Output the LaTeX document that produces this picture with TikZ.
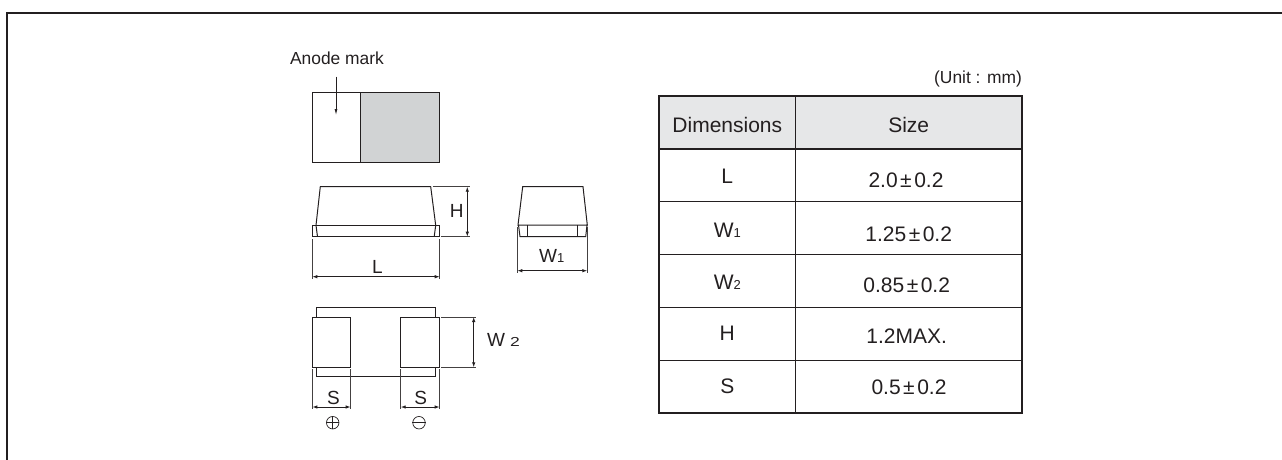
\documentclass[tikz,border=0pt]{standalone}
\usepackage{fontspec}
\usepackage{graphicx}
\setmainfont{Liberation Sans}
\usetikzlibrary{arrows.meta}
\definecolor{ink}{HTML}{231F20}
\newcommand{\fsLabel}{\fontsize{17.4}{20}\selectfont}
\newcommand{\fsTab}{\fontsize{21}{24}\selectfont}
\newcommand{\fsDim}{\fontsize{19}{22}\selectfont}
\newcommand{\smallidx}[1]{{\fontsize{13}{14}\selectfont #1}}
\newcommand{\plmn}{\kern2.5pt±\kern2.5pt}
\tikzset{
  part/.style={draw=ink,line width=1pt},
  ext/.style={draw=ink!85,line width=0.8pt},
  dimline/.style={draw=ink,line width=0.9pt,{Latex[length=5pt,width=3.5pt]}-{Latex[length=5pt,width=3.5pt]}},
  leader/.style={draw=ink,line width=0.8pt,-{Latex[length=6pt,width=3pt]}},
  lbl/.style={text=ink,inner sep=0pt,font=\fsDim},
  tabtxt/.style={text=ink,inner sep=0pt,font=\fsTab},
  thick rule/.style={draw=ink,line width=2pt},
  thin rule/.style={draw=ink,line width=1pt},
  polar/.style={circle,draw=ink,line width=0.7pt,minimum size=12.5pt,inner sep=0pt}
}
\begin{document}
\begin{tikzpicture}[x=1pt,y=-1pt]
\useasboundingbox (0,0) rectangle (1282,459);
% frame
\draw[ink,line width=2pt] (1290,13) -- (7,13) -- (7,470);

% top view
\node[lbl,font=\fsLabel,anchor=center] (anode) at (337,58.5) {Anode mark};
\fill[fill={rgb,255:red,209;green,211;blue,212}] (360,92.3) rectangle (439.7,162.3);
\draw[part] (312.3,92.3) rectangle (439.7,162.3);
\draw[part] (360,92.3) -- (360,162.3);
\coordinate (anodeS) at (336,76.7);
\coordinate (anodeE) at (336,115);
\draw[leader] (anodeS) -- (anodeE);

% side view
\draw[part] (316,225.3) -- (320.3,186.7) -- (430.7,186.7) -- (435.7,225.3);
\draw[part] (312.3,225.3) rectangle (439.7,236.7);
\draw[part] (316,225.3) -- (317.5,236.7);
\draw[part] (435.7,225.3) -- (434.2,236.7);
% H
\coordinate (hT) at (467.3,186.7);
\coordinate (hB) at (467.3,236.7);
\draw[ext] (432.7,186.7) -- (470,186.7);
\draw[ext] (441,236.7) -- (470,236.7);
\draw[dimline] (hT) -- (hB);
\node[lbl] (hlab) at (456.7,210.5) {H};
% L
\coordinate (lL) at (312.3,276.7);
\coordinate (lR) at (439.7,276.7);
\draw[ext] (312.3,239.3) -- (312.3,278.7);
\draw[ext] (439.7,239.3) -- (439.7,278.7);
\draw[dimline] (lL) -- (lR);
\node[lbl] (llab) at (377.3,266.5) {L};

% end view
\draw[part] (518,225) -- (522.7,186.7) -- (583,186.7) -- (587.3,225) -- cycle;
\draw[part] (518.5,225) -- (520,236.7) -- (585.7,236.7) -- (587,225);
\draw[part] (527.7,225) -- (527.7,236.7);
\draw[part] (577.7,225) -- (577.7,236.7);
\coordinate (wL) at (517.3,270.7);
\coordinate (wR) at (587.3,270.7);
\draw[ext] (517.3,226.7) -- (517.3,272.7);
\draw[ext] (587.3,226.7) -- (587.3,272.7);
\draw[dimline] (wL) -- (wR);
\node[lbl] (w1lab) at (551.7,256) {W\smallidx{1}};

% bottom view
\draw[part] (316.3,317) -- (316.3,307.3) -- (435.3,307.3) -- (435.3,317);
\draw[part] (316.3,367.3) -- (316.3,376.7) -- (435.3,376.7) -- (435.3,367.3);
\draw[part] (312.3,317) rectangle (350.7,367.3);
\draw[part] (400.7,317) rectangle (439.7,367.3);
% W2
\coordinate (w2T) at (473.7,317);
\coordinate (w2B) at (473.7,367.3);
\draw[ext] (441.3,317) -- (476,317);
\draw[ext] (441.3,367.3) -- (476,367.3);
\draw[dimline] (w2T) -- (w2B);
\node[lbl,anchor=base west] (w2lab) at (487,346.5) {W\kern5pt\scalebox{1.35}[1]{\smallidx{2}}};
% S left
\coordinate (s1L) at (312.3,407);
\coordinate (s1R) at (350.7,407);
\draw[ext] (312.3,369.3) -- (312.3,408.7);
\draw[ext] (350.7,369.3) -- (350.7,408.7);
\draw[dimline] (s1L) -- (s1R);
\node[lbl] (s1lab) at (333.5,398) {S};
% S right
\coordinate (s2L) at (400.7,407);
\coordinate (s2R) at (439.7,407);
\draw[ext] (400.7,369.3) -- (400.7,408.7);
\draw[ext] (439.7,369.3) -- (439.7,408.7);
\draw[dimline] (s2L) -- (s2R);
\node[lbl] (s2lab) at (420.7,398) {S};
% polarity
\node[polar] (plus) at (332.7,422.7) {};
\draw[ink,line width=0.7pt] (plus.west) -- (plus.east) (plus.north) -- (plus.south);
\node[polar] (minus) at (419,422.7) {};
\draw[ink,line width=0.7pt] (minus.west) -- (minus.east);

% table
\node[tabtxt,font=\fsLabel,anchor=east] (unit) at (1022,79) {(Unit : mm)};
\fill[fill={rgb,255:red,230;green,231;blue,232}] (659.3,96) rectangle (1022.3,148.7);
\draw[thin rule] (659.3,201.7) -- (1022.3,201.7);
\draw[thin rule] (659.3,254.3) -- (1022.3,254.3);
\draw[thin rule] (659.3,307.3) -- (1022.3,307.3);
\draw[thin rule] (659.3,360) -- (1022.3,360);
\draw[thin rule] (795.3,96) -- (795.3,413.3);
\draw[thick rule] (659.3,148.7) -- (1022.3,148.7);
\draw[thick rule] (659.3,96) rectangle (1022.3,413.3);
\node[tabtxt] (hdim) at (727.3,125) {Dimensions};
\node[tabtxt] (hsize) at (908.7,125) {Size};
\node[tabtxt] (rL) at (727.3,176.7) {L};
\node[tabtxt] (vL) at (906,180.7) {2.0\plmn 0.2};
\node[tabtxt] (rW1) at (727.3,230) {W\smallidx{1}};
\node[tabtxt] (vW1) at (908.7,234.3) {1.25\plmn 0.2};
\node[tabtxt] (rW2) at (727.3,282) {W\smallidx{2}};
\node[tabtxt] (vW2) at (906.7,285) {0.85\plmn 0.2};
\node[tabtxt] (rH) at (727.3,333.5) {H};
\node[tabtxt] (vH) at (906.7,336) {1.2MAX.};
\node[tabtxt] (rS) at (727.3,386.7) {S};
\node[tabtxt] (vS) at (909,387.7) {0.5\plmn 0.2};
\end{tikzpicture}
\end{document}
